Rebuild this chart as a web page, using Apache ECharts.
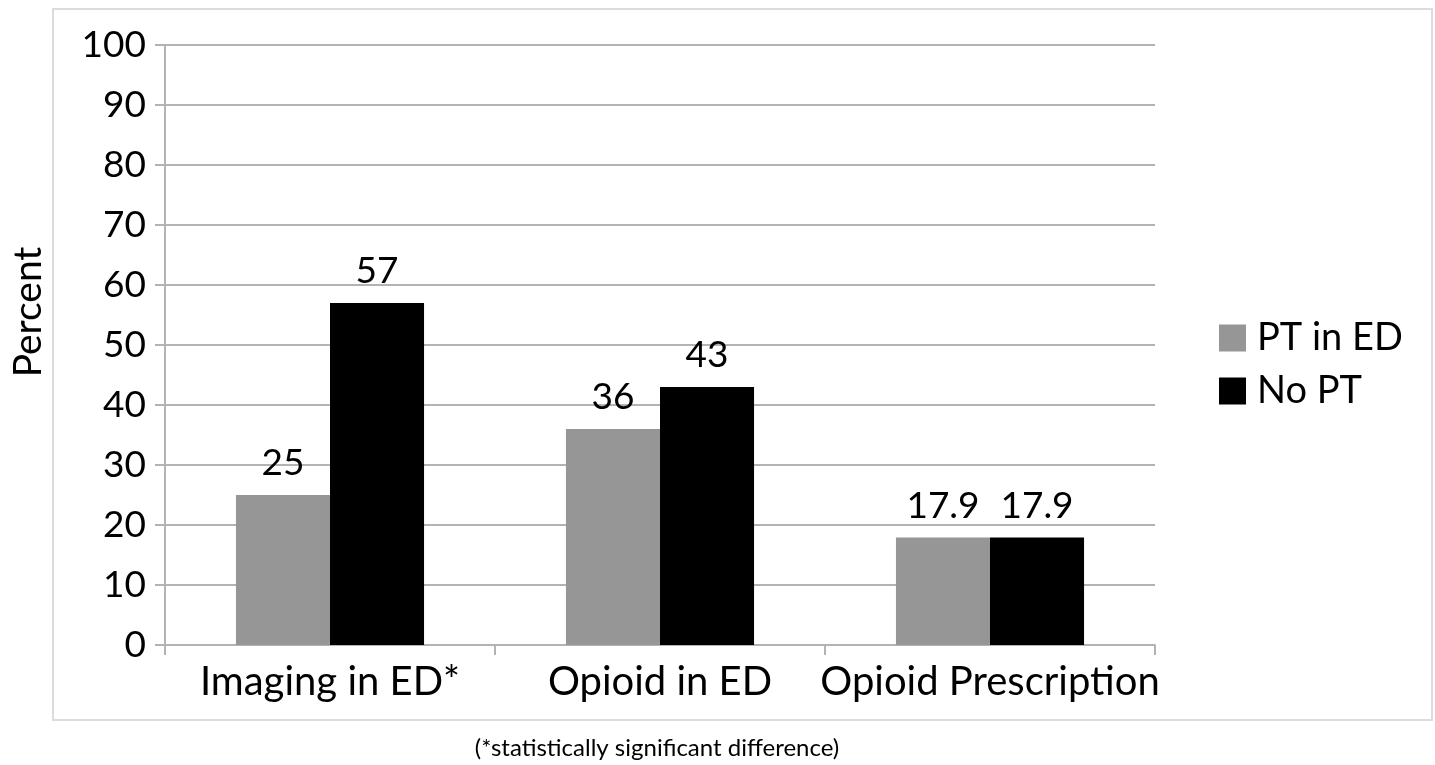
<!DOCTYPE html>
<html>
<head>
<meta charset="utf-8">
<script src="https://cdn.jsdelivr.net/npm/echarts@6/dist/echarts.min.js"></script>
<style>
  html, body { margin: 0; padding: 0; background: #fff; }
  #chart { width: 1435px; height: 765px; }
</style>
</head>
<body>
<div id="chart"></div>
<script>
// Outcome categories and the share (%) of patients in each group
const categories = ['Imaging in ED*', 'Opioid in ED', 'Opioid Prescription'];
const ptInEd = [25, 36, 17.9];
const noPt = [57, 43, 17.9];
const seriesNames = ['PT in ED', 'No PT'];
const yTicks = { min: 0, max: 100, interval: 10 };

const FONT = 'Lato, "Open Sans", sans-serif';
const GRID_COLOR = '#b3b3b3';

const chart = echarts.init(document.getElementById('chart'), null, { renderer: 'canvas' });

const labelStyle = {
  show: true,
  position: 'top',
  distance: 13,
  color: '#000',
  fontFamily: FONT,
  fontSize: 37,
  formatter: p => String(p.value)
};

chart.setOption({
  animation: false,
  backgroundColor: '#fff',
  grid: { left: 165, right: 280, top: 45, bottom: 120, containLabel: false },
  legend: {
    orient: 'vertical',
    left: 1219,
    top: 319,
    padding: 0,
    itemWidth: 27,
    itemHeight: 27,
    itemGap: 15,
    icon: 'rect',
    textStyle: { fontFamily: FONT, fontSize: 38, color: '#000', padding: [0, 0, 0, 6] },
    data: seriesNames
  },
  xAxis: {
    type: 'category',
    data: categories,
    axisLine: { show: true, lineStyle: { color: GRID_COLOR, width: 2 } },
    axisTick: { show: true, length: 10, alignWithLabel: false, lineStyle: { color: GRID_COLOR, width: 2 } },
    axisLabel: { color: '#000', fontFamily: FONT, fontSize: 40, margin: 17, interval: 0 }
  },
  yAxis: {
    type: 'value',
    min: yTicks.min,
    max: yTicks.max,
    interval: yTicks.interval,
    axisLine: { show: true, lineStyle: { color: GRID_COLOR, width: 2 } },
    axisTick: { show: true, length: 10, lineStyle: { color: GRID_COLOR, width: 2 } },
    axisLabel: { color: '#000', fontFamily: FONT, fontSize: 37, margin: 19 },
    splitLine: { show: true, lineStyle: { color: GRID_COLOR, width: 2 } }
  },
  series: [
    {
      name: seriesNames[0],
      type: 'bar',
      data: ptInEd,
      barGap: '0%',
      barCategoryGap: '43%',
      itemStyle: { color: '#969696' },
      label: labelStyle
    },
    {
      name: seriesNames[1],
      type: 'bar',
      data: noPt,
      barGap: '0%',
      barCategoryGap: '43%',
      itemStyle: { color: '#000000' },
      label: labelStyle
    }
  ],
  graphic: [
    {
      type: 'rect',
      silent: true,
      shape: { x: 53, y: 9, width: 1379, height: 711 },
      style: { fill: 'none', stroke: '#dcdcdc', lineWidth: 2 },
      z: -1
    },
    {
      type: 'text',
      x: 28,
      y: 312,
      rotation: Math.PI / 2,
      style: {
        text: 'Percent',
        fontFamily: FONT,
        fontSize: 39,
        fill: '#000',
        align: 'center',
        verticalAlign: 'middle'
      }
    },
    {
      type: 'text',
      x: 657,
      y: 748,
      style: {
        text: '(*statistically significant difference)',
        fontFamily: FONT,
        fontSize: 24,
        fill: '#000',
        align: 'center',
        verticalAlign: 'middle'
      }
    }
  ]
});
</script>
</body>
</html>
